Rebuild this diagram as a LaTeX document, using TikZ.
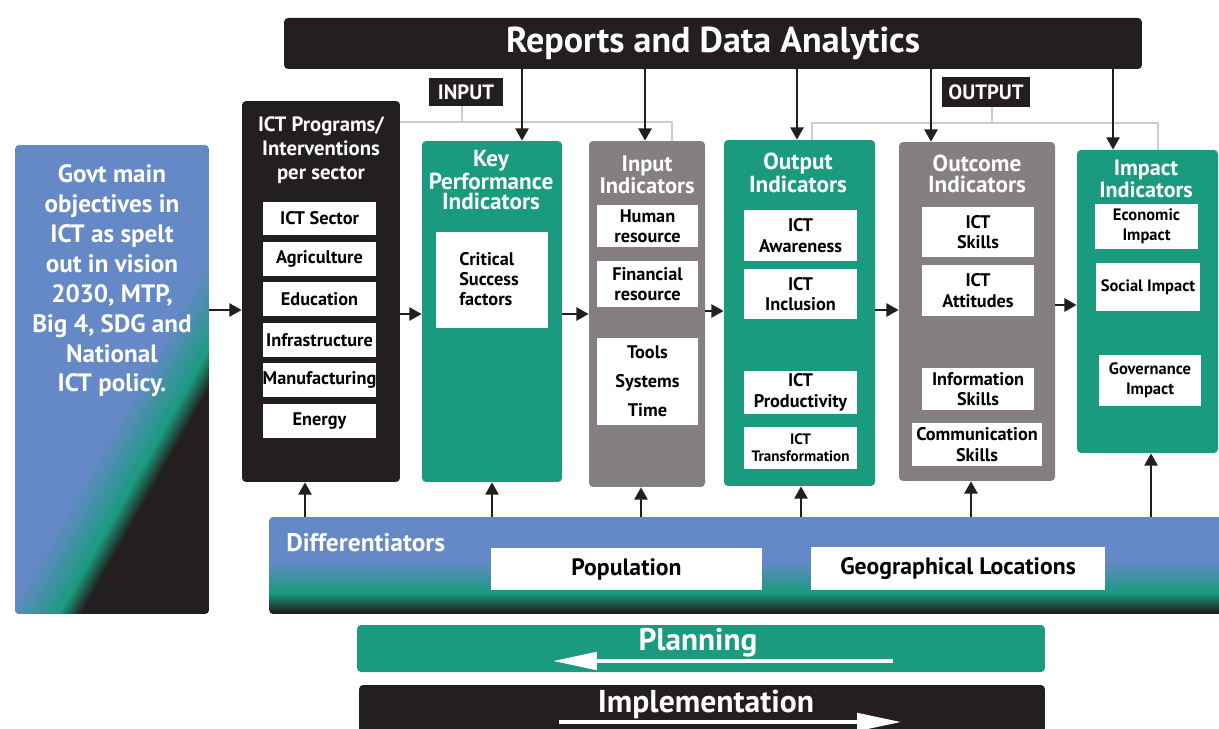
\documentclass[tikz,border=0pt]{standalone}
\usepackage{fontspec}
\setmainfont{PT Sans}
\usepackage{tikz}
\usetikzlibrary{arrows.meta}
\usetikzlibrary{positioning}
\definecolor{ictblack}{RGB}{35,31,32}
\definecolor{ictgreen}{RGB}{26,155,127}
\definecolor{ictgray}{RGB}{133,128,127}
\definecolor{ictblue}{RGB}{100,137,198}
\definecolor{linegray}{RGB}{205,205,205}
\pgfdeclareverticalshading{diffshade}{100bp}{color(0bp)=(ictblack); color(26bp)=(ictblack); color(36bp)=(ictgreen); color(52bp)=(ictblue); color(100bp)=(ictblue)}
\tikzset{
    panel/.style={
           rectangle,
           rounded corners=0.08cm,
           inner sep=0pt,
           },
}
\tikzset{
    tag/.style={
           rectangle,
           fill=ictblack,
           text=white,
           inner sep=0pt,
           font=\bfseries\fontsize{11.8}{14}\selectfont,
           },
}
\tikzset{
    coltitle/.style={
           text=white,
           align=center,
           inner sep=0pt,
           font=\bfseries\fontsize{13.2}{11.6}\selectfont,
           },
}
\tikzset{
    cell/.style={
           rectangle,
           fill=white,
           inner sep=0pt,
           align=center,
           font=\bfseries\fontsize{10.4}{11.6}\selectfont,
           },
}
\tikzset{
    arr/.style={
           draw=ictblack,
           line width=1.4pt,
           -{Triangle[length=7pt,width=7.4pt]},
           },
}
\tikzset{
    link/.style={
           draw=linegray,
           line width=0.8pt,
           },
}
\tikzset{
    warr/.style={
           draw=white,
           line width=1.8pt,
           -{Triangle[length=25pt,width=10pt]},
           },
}

\begin{document}
\begin{tikzpicture}[x=0.02cm, y=-0.02cm]
\useasboundingbox (0,0) rectangle (1219,729);
\node[panel, fill=ictblack, text=white, minimum width=17.16cm, minimum height=1.02cm, font=\bfseries\fontsize{20.5}{24}\selectfont] (reports) at (713,43.5) {Reports and Data Analytics};
\node[tag, minimum width=1.48cm, minimum height=0.56cm] (inlab) at (466,92) {INPUT};
\node[tag, minimum width=1.76cm, minimum height=0.6cm] (outlab) at (986,92) {OUTPUT};

\node[panel, fill=ictblue, minimum width=3.88cm, minimum height=9.38cm, path picture={
    \begin{scope}[shift={(path picture bounding box.center)}]
    \foreach \s in {25,27,...,67} {
        \pgfmathtruncatemacro\p{100*(\s-25)/44}
        \fill[ictgreen!\p!ictblue] ({0.870*\s+197.6},{0.494*\s-348}) -- ({0.870*(\s+2.4)+197.6},{0.494*(\s+2.4)-348}) -- ({0.870*(\s+2.4)-197.6},{0.494*(\s+2.4)+348}) -- ({0.870*\s-197.6},{0.494*\s+348}) -- cycle;
    }
    \foreach \s in {69,71,...,87} {
        \pgfmathtruncatemacro\p{100*(\s-69)/19}
        \fill[ictblack!\p!ictgreen] ({0.870*\s+197.6},{0.494*\s-348}) -- ({0.870*(\s+2.4)+197.6},{0.494*(\s+2.4)-348}) -- ({0.870*(\s+2.4)-197.6},{0.494*(\s+2.4)+348}) -- ({0.870*\s-197.6},{0.494*\s+348}) -- cycle;
    }
    \fill[ictblack] ({0.870*88.5+197.6},{0.494*88.5-348}) -- ({0.870*500+197.6},{0.494*500-348}) -- ({0.870*500-197.6},{0.494*500+348}) -- ({0.870*88.5-197.6},{0.494*88.5+348}) -- cycle;
    \end{scope}}] (govt) at (112,379.5) {};
\node[text=white, align=center, inner sep=0pt, font=\bfseries\fontsize{14.3}{17}\selectfont] (govtxt) at (112,281) {Govt main\\objectives in\\ICT as spelt\\out in vision\\2030, MTP,\\Big 4, SDG and\\National\\ICT policy.};

\node[panel, fill=ictblack, minimum width=3.16cm, minimum height=7.62cm] (prog) at (321,291.5) {};
\node[coltitle, font=\bfseries\fontsize{11.8}{13.6}\selectfont] (progtitle) at (321,150) {ICT Programs/\\Interventions\\per sector};
\node[cell, minimum width=2.26cm, minimum height=0.68cm] (sector) at (319.5,218.5) {ICT Sector};
\node[cell, minimum width=2.26cm, minimum height=0.68cm] (agri) at (319.5,259) {Agriculture};
\node[cell, minimum width=2.26cm, minimum height=0.68cm] (edu) at (319.5,299) {Education};
\node[cell, minimum width=2.26cm, minimum height=0.68cm] (infra) at (319.5,340) {Infrastructure};
\node[cell, minimum width=2.26cm, minimum height=0.68cm] (manu) at (319.5,380) {Manufacturing};
\node[cell, minimum width=2.26cm, minimum height=0.68cm] (energy) at (319.5,421) {Energy};

\node[panel, fill=ictgreen, minimum width=2.8cm, minimum height=6.82cm] (kpi) at (492,311.5) {};
\node[coltitle] (kpititle) at (491,180) {Key\\Performance\\Indicators};
\node[cell, minimum width=2.24cm, minimum height=1.92cm] (csf) at (492,280) {};
\node[align=left, inner sep=0pt, font=\bfseries\fontsize{10.4}{11.6}\selectfont] (csftxt) at (489,279) {Critical\\Success\\factors};

\node[panel, fill=ictgray, minimum width=2.32cm, minimum height=6.92cm] (inp) at (647,314) {};
\node[coltitle, font=\bfseries\fontsize{12.8}{11.6}\selectfont] (inptitle) at (647,175) {Input\\Indicators};
\node[cell, minimum width=2.02cm, minimum height=0.84cm] (human) at (647.5,226) {Human\\resource};
\node[cell, minimum width=2.02cm, minimum height=0.92cm] (finance) at (647.5,284) {Financial\\resource};
\node[cell, minimum width=2.02cm, minimum height=1.74cm, font=\bfseries\fontsize{10.4}{16.5}\selectfont] (tools) at (647.5,381.5) {Tools\\Systems\\Time};

\node[panel, fill=ictgreen, minimum width=3.02cm, minimum height=6.92cm] (outp) at (799.5,313) {};
\node[coltitle] (outptitle) at (798,173) {Output\\Indicators};
\node[cell, minimum width=2.26cm, minimum height=1.02cm] (aware) at (800.5,235.5) {ICT\\Awareness};
\node[cell, minimum width=2.26cm, minimum height=1cm] (incl) at (800.5,294) {ICT\\Inclusion};
\node[cell, minimum width=2.26cm, minimum height=0.86cm] (prod) at (800.5,392.5) {ICT\\Productivity};
\node[cell, minimum width=2.26cm, minimum height=0.84cm, font=\bfseries\fontsize{8.6}{9.6}\selectfont] (transf) at (800.5,448) {ICT\\Transformation};

\node[panel, fill=ictgray, minimum width=3.12cm, minimum height=6.78cm] (outc) at (977,311.5) {};
\node[coltitle] (outctitle) at (977,174) {Outcome\\Indicators};
\node[cell, minimum width=2.24cm, minimum height=1cm] (skills) at (978,232) {ICT\\Skills};
\node[cell, minimum width=2.24cm, minimum height=1.02cm] (attit) at (978,290.5) {ICT\\Attitudes};
\node[cell, minimum width=2.24cm, minimum height=0.84cm] (info) at (978,389) {Information\\Skills};
\node[cell, minimum width=2.6cm, minimum height=0.86cm] (comm) at (977,444.5) {Communication\\Skills};

\node[panel, fill=ictgreen, minimum width=2.82cm, minimum height=6.06cm] (imp) at (1147.5,301.5) {};
\node[coltitle, font=\bfseries\fontsize{12.6}{10.8}\selectfont] (imptitle) at (1146,179) {Impact\\Indicators};
\node[cell, minimum width=2.06cm, minimum height=0.9cm, font=\bfseries\fontsize{9.4}{11.3}\selectfont] (econ) at (1146.5,226.5) {Economic\\Impact};
\node[cell, minimum width=2.08cm, minimum height=0.96cm, font=\bfseries\fontsize{9.4}{11.3}\selectfont] (social) at (1148,287) {Social Impact};
\node[cell, minimum width=2.04cm, minimum height=1.02cm, font=\bfseries\fontsize{9.4}{11.3}\selectfont] (gov) at (1150,380.5) {Governance\\Impact};

\node[panel, shading=diffshade, minimum width=19.2cm, minimum height=1.94cm] (diff) at (749,565.5) {};
\node[anchor=west, text=white, inner sep=0pt, font=\bfseries\fontsize{14.5}{17}\selectfont] (difftxt) at (286,543) {Differentiators};
\node[cell, minimum width=5.42cm, minimum height=0.84cm, font=\bfseries\fontsize{13.5}{16}\selectfont] (pop) at (626.5,569) {Population};
\node[cell, minimum width=5.88cm, minimum height=0.86cm, font=\bfseries\fontsize{13.5}{16}\selectfont] (geo) at (958,568.5) {Geographical Locations};

\node[panel, fill=ictgreen, minimum width=13.76cm, minimum height=0.94cm] (plan) at (701,648.5) {};
\node[text=white, inner sep=0pt, font=\bfseries\fontsize{17.8}{21}\selectfont] (plantxt) at (698,643) {Planning};
\node[panel, fill=ictblack, minimum width=13.72cm, minimum height=1.04cm] (impl) at (702,711) {};
\node[text=white, inner sep=0pt, font=\bfseries\fontsize{18}{21}\selectfont] (impltxt) at (706,704) {Implementation};
\coordinate (planR) at (893,661);
\coordinate (planL) at (553,661);
\coordinate (implL) at (559,722);
\coordinate (implR) at (901,722);
\draw[warr] (planR) -- (planL);
\draw[warr] (implL) -- (implR);

\coordinate (injoin) at (462,122);
\coordinate (outjoin) at (992,123);
\draw[link] (inlab.south -| injoin) -- (injoin);
\draw[link] (prog.east |- injoin) -- (672,122) -- (inp.north -| 672,0);
\draw[link] (outlab.south -| outjoin) -- (outjoin);
\draw[link] (outp.north -| 812,0) -- (812,123) -- (1158,123) -- (imp.north -| 1158,0);

\draw[arr] (reports.south -| 522,0) -- (kpi.north -| 522,0);
\draw[arr] (reports.south -| 645,0) -- (inp.north -| 645,0);
\draw[arr] (reports.south -| 797,0) -- (outp.north -| 797,0);
\draw[arr] (reports.south -| 931,0) -- (outc.north -| 931,0);
\draw[arr] (reports.south -| 1113,0) -- (imp.north -| 1113,0);

\draw[arr] (govt.east |- 0,310) -- (prog.west |- 0,310);
\draw[arr] (prog.east |- 0,314) -- (kpi.west |- 0,314);
\draw[arr] (kpi.east |- 0,314) -- (inp.west |- 0,314);
\draw[arr] (inp.east |- 0,311) -- (outp.west |- 0,311);
\draw[arr] (outp.east |- 0,310) -- (outc.west |- 0,310);
\draw[arr] (outc.east |- 0,305) -- (imp.west |- 0,305);

\draw[arr] (diff.north -| 305,0) -- (prog.south -| 305,0);
\draw[arr] (diff.north -| 492,0) -- (kpi.south -| 492,0);
\draw[arr] (diff.north -| 641,0) -- (inp.south -| 641,0);
\draw[arr] (diff.north -| 801,0) -- (outp.south -| 801,0);
\draw[arr] (diff.north -| 971,0) -- (outc.south -| 971,0);
\draw[arr] (diff.north -| 1151,0) -- (imp.south -| 1151,0);
\end{tikzpicture}
\end{document}
